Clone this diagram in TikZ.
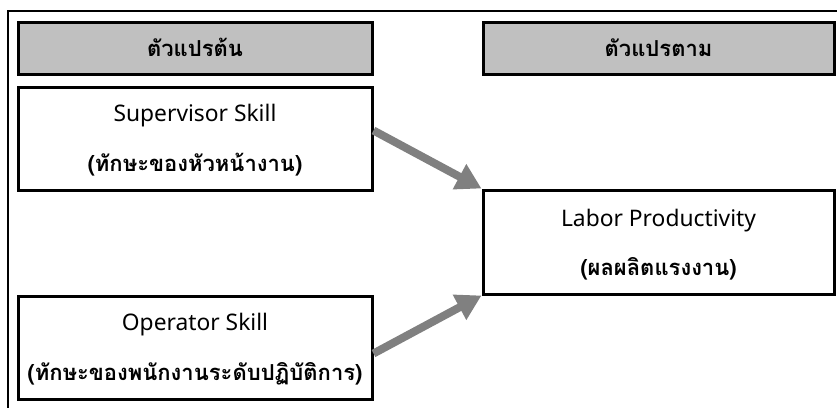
\documentclass[tikz,border=0pt]{standalone}
\usepackage{fontspec}
\setmainfont{Noto Sans}
\newfontfamily\thai[Script=Thai]{Loma}
\usetikzlibrary{arrows.meta,calc}
\definecolor{headgray}{RGB}{192,192,192}
\definecolor{arrowgray}{RGB}{128,128,128}
\tikzset{
  frame/.style={line width=2pt},
  headbox/.style={draw, line width=3pt, fill=headgray, minimum height=52pt, inner sep=0pt},
  varbox/.style={draw, line width=3pt, fill=white, minimum height=103pt, inner sep=0pt},
  thaitext/.style={anchor=base, inner sep=0pt, font=\fontsize{22}{26}\selectfont\thai\bfseries},
  latintext/.style={anchor=base, inner sep=0pt, font=\fontsize{22.8}{27}\selectfont},
  bigarrow/.style={draw=arrowgray, line width=8pt,
    -{Triangle[length=25pt,width=27pt,fill=arrowgray]}},
}
\begin{document}
\begin{tikzpicture}[x=1pt,y=1pt]
  \useasboundingbox (0,0) rectangle (837,-407);
  % outer frame: only top and left edges fall inside the page
  \coordinate (ftl) at (8,-11);
  \coordinate (ftr) at (840,-11);
  \coordinate (fbl) at (8,-410);
  \draw[frame] (ftr) -- (ftl) -- (fbl);

  % column headers
  \node[headbox, minimum width=354pt] (hin) at (195,-48) {};
  \node[headbox, minimum width=351pt] (hout) at (658.5,-48) {};
  \node[thaitext] (hint) at ([yshift=-36pt]hin.north) {ตัวแปรต้น};
  \node[thaitext] (houtt) at ([yshift=-36pt]hout.north) {ตัวแปรตาม};

  % variables
  \node[varbox, minimum width=354pt] (sup) at (195,-138.5) {};
  \node[latintext] (supa) at ([yshift=-36pt]sup.north) {Supervisor Skill};
  \node[thaitext] (supb) at ([yshift=-86pt]sup.north) {(ทักษะของหัวหน้างาน)};

  \node[varbox, minimum width=354pt] (op) at (195,-347.5) {};
  \node[latintext] (opa) at ([yshift=-36pt]op.north) {Operator Skill};
  \node[thaitext] (opb) at ([yshift=-86pt]op.north) {(ทักษะของพนักงานระดับปฏิบัติการ)};

  \node[varbox, minimum width=351pt, minimum height=104pt] (lab) at (658.5,-242) {};
  \node[latintext] (laba) at ([yshift=-38pt]lab.north) {Labor Productivity};
  \node[thaitext] (labb) at ([yshift=-87pt]lab.north) {(ผลผลิตแรงงาน)};

  % effects
  \draw[bigarrow] ([yshift=8pt]sup.east) -- (lab.north west);
  \draw[bigarrow] ([yshift=-6pt]op.east) -- (lab.south west);
\end{tikzpicture}
\end{document}
